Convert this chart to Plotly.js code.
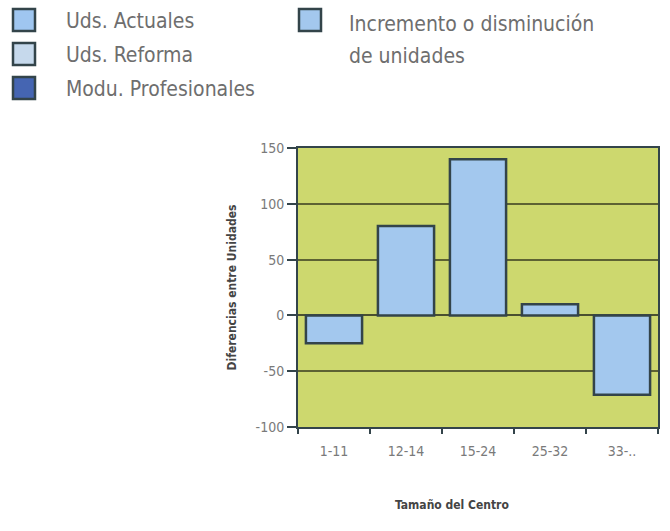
<!DOCTYPE html>
<html><head><meta charset="utf-8">
<script src="https://cdn.plot.ly/plotly-3.0.1.min.js"></script>
<style>html,body{margin:0;padding:0;background:#fff;}#chart{width:670px;height:531px;}</style>
</head><body><div id="chart"></div>
<script>
const categories = ["1-11", "12-14", "15-24", "25-32", "33-.."];
const diferencias = [-25, 80, 140, 10, -71];
const yTicks = [-100, -50, 0, 50, 100, 150];
const yTickText = ["-100", "-50", "0", "50", "100", "150"];
const legendLabels = ["Uds. Actuales", "Uds. Reforma", "Modu. Profesionales"];
const legendColors = ["#9fc6f0", "#c6d9ec", "#4565b2"];
const legend2Lines = ["Incremento o disminución", "de unidades"];
const legend2Color = "#a3c8ee";
const yTitle = "Diferencias entre Unidades";
const xTitle = "Tamaño del Centro";

const W = 670, H = 531;
const M = {l: 298, r: 12, t: 148, b: 104};
const PW = W - M.l - M.r, PH = H - M.t - M.b;
const px = x => (x - M.l) / PW;
const py = y => 1 - (y - M.t) / PH;

const narrow = "'DejaVu Sans Condensed', 'Liberation Sans Narrow', sans-serif";
const border = "#33444a";

const shapes = [];
const annotations = [];
const rowY = [20, 54, 88];
legendLabels.forEach((lab, i) => {
  shapes.push({type: "rect", xref: "paper", yref: "paper",
    x0: px(13), x1: px(35), y0: py(rowY[i] - 11), y1: py(rowY[i] + 11),
    fillcolor: legendColors[i], line: {color: border, width: 2.5}});
  annotations.push({xref: "paper", yref: "paper", x: px(64), y: py(rowY[i] + 1),
    xanchor: "left", yanchor: "middle", showarrow: false, text: lab,
    font: {family: narrow, size: 21, color: "#6e6e6e", weight: 300}});
});
shapes.push({type: "rect", xref: "paper", yref: "paper",
  x0: px(299), x1: px(321), y0: py(9), y1: py(31),
  fillcolor: legend2Color, line: {color: border, width: 2.5}});
const row2Y = [24, 56];
legend2Lines.forEach((lab, i) => {
  annotations.push({xref: "paper", yref: "paper", x: px(347), y: py(row2Y[i]),
    xanchor: "left", yanchor: "middle", align: "left", showarrow: false, text: lab,
    font: {family: narrow, size: 21, color: "#6e6e6e", weight: 300}});
});
annotations.push({xref: "paper", yref: "paper", x: px(452), y: py(505),
  xanchor: "center", yanchor: "middle", showarrow: false, text: "<b>" + xTitle + "</b>",
  font: {family: narrow, size: 12, color: "#444"}});

const trace = {
  type: "bar", x: categories, y: diferencias,
  marker: {color: legend2Color, line: {color: border, width: 2.5}},
  hoverinfo: "none", showlegend: false
};

const layout = {
  width: W, height: H, margin: M,
  paper_bgcolor: "#ffffff", plot_bgcolor: "#cdd86e",
  bargap: 0.22, showlegend: false,
  xaxis: {
    type: "category", tickson: "boundaries", ticks: "outside", ticklen: 5, tickwidth: 2,
    tickcolor: border, showline: true, mirror: true, linecolor: border, linewidth: 2,
    showgrid: false, zeroline: false, ticklabelstandoff: 10,
    tickfont: {family: narrow, size: 14, color: "#7a7a7a"}
  },
  yaxis: {
    range: [-100, 150], tickvals: yTicks, ticktext: yTickText, ticks: "outside", ticklen: 9, tickwidth: 2,
    tickcolor: border, showline: true, mirror: true, linecolor: border, linewidth: 2,
    showgrid: true, gridcolor: "#5d6233", gridwidth: 2,
    zeroline: true, zerolinecolor: "#4a5030", zerolinewidth: 2,
    tickfont: {family: narrow, size: 14, color: "#7a7a7a"},
    title: {text: "<b>" + yTitle + "</b>", standoff: 16,
      font: {family: narrow, size: 12, color: "#444"}}
  },
  shapes: shapes, annotations: annotations
};

Plotly.newPlot("chart", [trace], layout, {staticPlot: true, displayModeBar: false});
</script>
</body></html>
